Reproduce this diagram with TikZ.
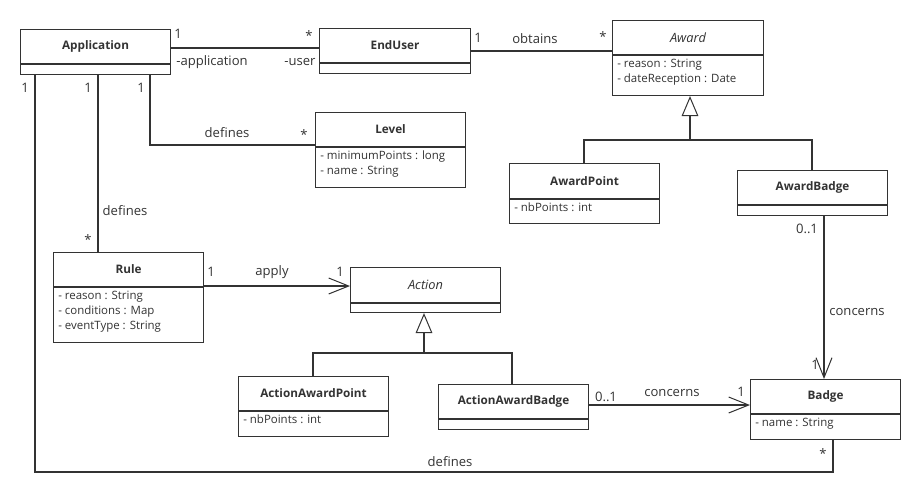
\documentclass[tikz,border=0pt]{standalone}
\usepackage{fontspec}
\setmainfont{Open Sans}
\usetikzlibrary{arrows.meta}
\definecolor{ink}{HTML}{333333}

% class box: name, left, top, width, height, title-compartment height, title, attributes
\newcommand\umlclass[8]{%
  \node[cls, anchor=north west, minimum width=#4*0.75pt, minimum height=#5*0.75pt] (#1) at (#2,#3) {};
  \draw[ink, line width=0.8pt] (#1.north west) ++(0,#6) -- ++(#4,0);
  \path (#1.north) ++(0,#6/2) node[clstitle] {#7};
  \path (#1.north west) ++(5,#6+4) node[clsattr] {#8};
}

\begin{document}
\begin{tikzpicture}[x=0.75pt, y=-0.75pt,
  cls/.style={draw=ink, line width=0.8pt, inner sep=0pt, fill=white},
  clstitle/.style={font=\fontsize{8.8}{10}\selectfont\bfseries, text=ink, inner sep=0pt},
  abstitle/.style={font=\fontsize{9.6}{10}\selectfont\itshape},
  clsattr/.style={anchor=north west, align=left, inner sep=0pt, text=ink,
    font=\fontsize{8.6}{11.25}\selectfont},
  lbl/.style={font=\fontsize{9.8}{11}\selectfont, text=ink, inner sep=0pt},
  assoc/.style={draw=ink, line width=0.8pt},
  nav/.style={assoc, -{Straight Barb[length=15pt, width=12pt, line width=0.75pt]}},
  gen/.style={assoc, -{Triangle[open, length=15pt, width=12.5pt, line width=0.75pt, fill=white]}}
]
\useasboundingbox (0,0) rectangle (920,492);

% classes
\umlclass{app}{20}{29}{150}{45}{35}{Application}{}
\umlclass{user}{319}{28}{151}{45}{35}{EndUser}{}
\umlclass{award}{612}{20}{151}{75}{35}{\mdseries\fontsize{9.6}{10}\selectfont\itshape Award}{- reason : String\\- dateReception : Date}
\umlclass{level}{315}{112}{150}{75}{35}{Level}{- minimumPoints : long\\- name : String}
\umlclass{awp}{509}{163}{150}{60}{36}{AwardPoint}{- nbPoints : int}
\umlclass{awb}{737}{170}{150}{45}{35}{AwardBadge}{}
\umlclass{rule}{53}{252}{150}{90}{35}{Rule}{- reason : String\\- conditions : Map\\- eventType : String}
\umlclass{action}{350}{267}{150}{45}{36}{\mdseries\fontsize{9.6}{10}\selectfont\itshape Action}{}
\umlclass{aap}{238}{376}{150}{60}{35}{ActionAwardPoint}{- nbPoints : int}
\umlclass{aab}{438}{384}{150}{45}{35}{ActionAwardBadge}{}
\umlclass{badge}{750}{379}{150}{60}{35}{Badge}{- name : String}

% routing coordinates
\coordinate (yAU) at (0,48);
\coordinate (yUA) at (0,51);
\coordinate (yLev) at (0,145);
\coordinate (yRA) at (0,286);
\coordinate (yBB) at (0,405);
\coordinate (yBot) at (0,472);
\coordinate (yGA) at (0,140);
\coordinate (yGB) at (0,353);
\coordinate (xAL) at (150,0);
\coordinate (xAR) at (98,0);
\coordinate (xAB) at (35,0);
\coordinate (xBd) at (833,0);
\coordinate (xGA) at (690,0);
\coordinate (xAwp) at (584,0);
\coordinate (xAwb) at (812,0);
\coordinate (xAwbB) at (824,0);
\coordinate (xGB) at (424,0);
\coordinate (xAap) at (313,0);
\coordinate (xAab) at (512,0);

% associations
\draw[assoc] (app.east |- yAU) -- (user.west |- yAU);
\draw[assoc] (user.east |- yUA) -- (award.west |- yUA);
\draw[assoc] (app.south -| xAL) |- (level.west |- yLev);
\draw[assoc] (app.south -| xAR) -- (rule.north -| xAR);
\draw[assoc] (app.south -| xAB) -- (xAB |- yBot) -- (xBd |- yBot) -- (badge.south -| xBd);
\draw[nav] (rule.east |- yRA) -- (action.west |- yRA);
\draw[nav] (aab.east |- yBB) -- (badge.west |- yBB);
\draw[nav] (awb.south -| xAwbB) -- (badge.north -| xAwbB);

% generalizations
\draw[assoc] (awp.north -| xAwp) |- (xGA |- yGA) -| (awb.north -| xAwb);
\draw[gen] (xGA |- yGA) -- (award.south -| xGA);
\draw[assoc] (aap.north -| xAap) |- (xGB |- yGB) -| (aab.north -| xAab);
\draw[gen] (xGB |- yGB) -- (action.south -| xGB);

% association labels and multiplicities
\node[lbl] (m1) at (178,34) {1};
\node[lbl] (m2) at (309,36) {*};
\node[lbl] (r1) at (212,62) {-application};
\node[lbl] (r2) at (300,62) {-user};
\node[lbl] (m3) at (478,38) {1};
\node[lbl] (l1) at (535,39) {obtains};
\node[lbl] (m4) at (603,37) {*};
\node[lbl] (m5) at (141,88) {1};
\node[lbl] (l2) at (227,133) {defines};
\node[lbl] (m6) at (304,135) {*};
\node[lbl] (m7) at (88,88) {1};
\node[lbl] (l3) at (125,211) {defines};
\node[lbl] (m8) at (88,240) {*};
\node[lbl] (m9) at (25,88) {1};
\node[lbl] (l4) at (450,462) {defines};
\node[lbl] (m10) at (823,454) {*};
\node[lbl] (m11) at (211,272) {1};
\node[lbl] (l5) at (272,272) {apply};
\node[lbl] (m12) at (340,272) {1};
\node[lbl] (m13) at (606,397) {0..1};
\node[lbl] (l6) at (672,393) {concerns};
\node[lbl] (m14) at (741,392) {1};
\node[lbl] (m15) at (807,229) {0..1};
\node[lbl] (l7) at (857,312) {concerns};
\node[lbl] (m16) at (815,365) {1};
\end{tikzpicture}
\end{document}
